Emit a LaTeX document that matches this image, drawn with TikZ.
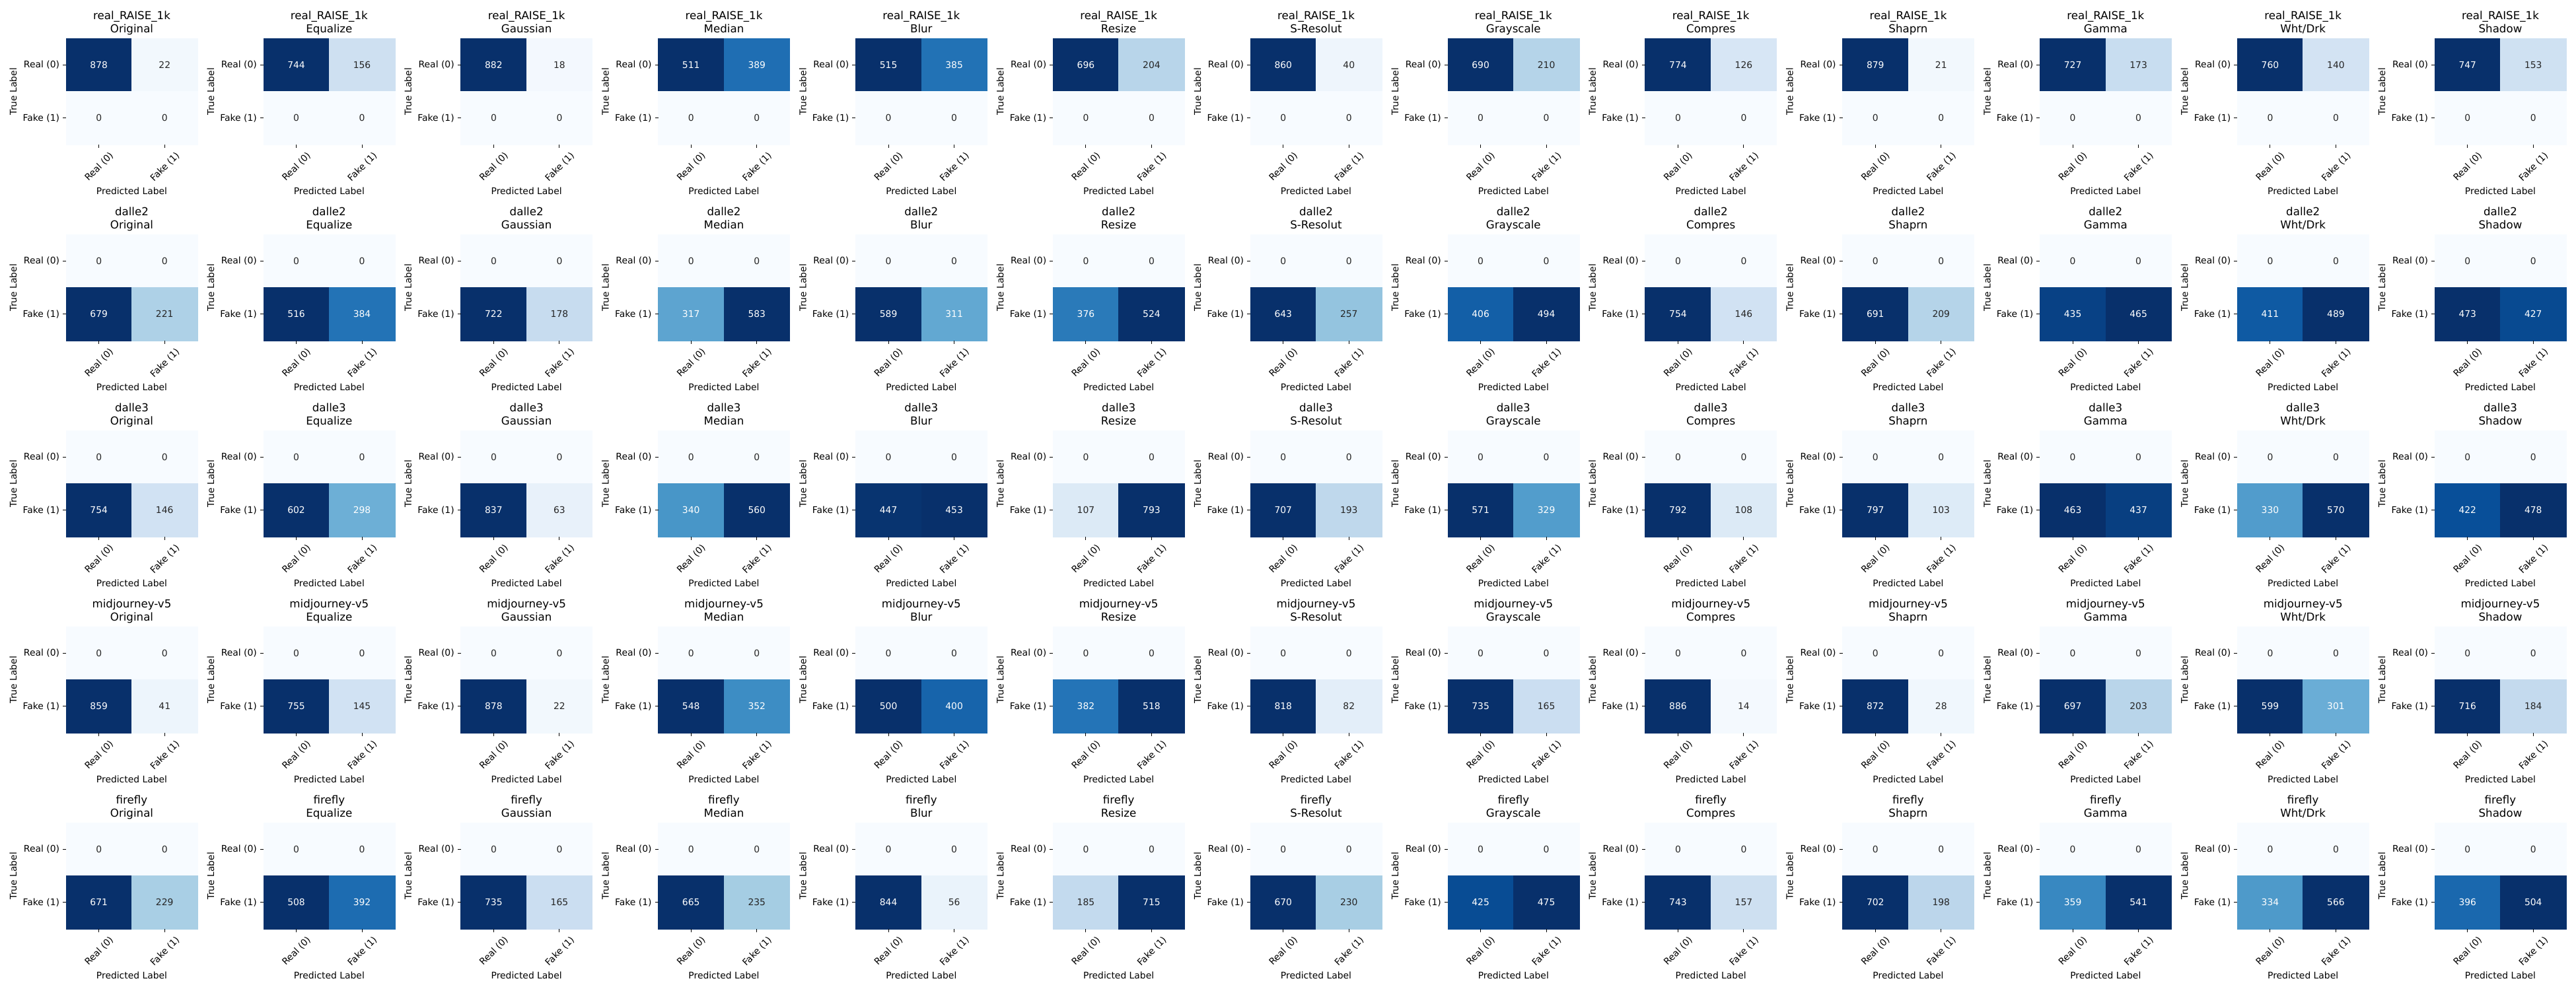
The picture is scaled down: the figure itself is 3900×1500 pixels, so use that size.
\documentclass[tikz,border=0pt]{standalone}
\usepackage{fontspec}
\setmainfont{DejaVu Sans}
\definecolor{bl0}{RGB}{247,251,255}
\definecolor{bl1}{RGB}{222,235,247}
\definecolor{bl2}{RGB}{198,219,239}
\definecolor{bl3}{RGB}{158,202,225}
\definecolor{bl4}{RGB}{107,174,214}
\definecolor{bl5}{RGB}{66,146,198}
\definecolor{bl6}{RGB}{33,113,181}
\definecolor{bl7}{RGB}{8,81,156}
\definecolor{bl8}{RGB}{8,48,107}
\definecolor{anndark}{gray}{0.15}
\tikzset{
  annot/.style={inner sep=0pt, font=\fontsize{10}{12}\selectfont},
  ticklab/.style={inner sep=0pt, text=black, font=\fontsize{10}{12}\selectfont},
  axlab/.style={inner sep=0pt, text=black, font=\fontsize{10}{12}\selectfont},
  ttl/.style={inner sep=0pt, text=black, font=\fontsize{12}{14}\selectfont},
  tickmark/.style={draw=black, line width=0.8pt}
}
\newcommand\dsname[1]{\ifcase#1 real\_RAISE\_1k\or dalle2\or dalle3\or midjourney-v5\or firefly\fi}
\newcommand\trname[1]{\ifcase#1 Original\or Equalize\or Gaussian\or Median\or Blur\or Resize\or S-Resolut\or Grayscale\or Compres\or Shaprn\or Gamma\or Wht/Drk\or Shadow\fi}
\newcommand\cmcell[5]{%
  \pgfmathsetmacro\cmt{#3/#4}%
  \pgfmathtruncatemacro\cmk{min(7,floor(8*\cmt))}%
  \pgfmathtruncatemacro\cmkk{\cmk+1}%
  \pgfmathtruncatemacro\cmp{round(100*(1-(8*\cmt-\cmk)))}%
  \colorlet{cellc}{bl\cmk!\cmp!bl\cmkk}%
  \pgfmathtruncatemacro\cmw{\cmt>0.48}%
  \ifnum\cmw=1 \colorlet{anc}{white}\else\colorlet{anc}{anndark}\fi
  \fill[cellc, draw=cellc, line width=0.3pt] (#1,#2) rectangle ++(99.5,80.5);
  \pgfmathsetmacro\cmx{#1+49.75}%
  \pgfmathsetmacro\cmy{#2+40.25}%
  \node[annot, text=anc] (#5) at (\cmx,\cmy) {#3};
}
\newcommand\cmpanel[4]{%
  \pgfmathsetmacro\XO{100+298.83*#2}%
  \pgfmathsetmacro\YO{58+297*#1}%
  \pgfmathsetmacro\XM{\XO+99.5}%
  \pgfmathsetmacro\YM{\YO+80.5}%
  \pgfmathsetmacro\YB{\YO+161}%
  \pgfmathsetmacro\mx{max(#3,#4)}%
  \ifnum#1=0
    \cmcell{\XO}{\YO}{#3}{\mx}{c#1-#2-a}
    \cmcell{\XM}{\YO}{#4}{\mx}{c#1-#2-b}
    \cmcell{\XO}{\YM}{0}{\mx}{c#1-#2-c}
    \cmcell{\XM}{\YM}{0}{\mx}{c#1-#2-d}
  \else
    \cmcell{\XO}{\YO}{0}{\mx}{c#1-#2-a}
    \cmcell{\XM}{\YO}{0}{\mx}{c#1-#2-b}
    \cmcell{\XO}{\YM}{#3}{\mx}{c#1-#2-c}
    \cmcell{\XM}{\YM}{#4}{\mx}{c#1-#2-d}
  \fi
  % titles
  \node[ttl, anchor=base] (ta#1-#2) at (\XM,\YO-28.5) {\dsname{#1}};
  \node[ttl, anchor=base] (tb#1-#2) at (\XM,\YO-8.3) {\trname{#2}};
  % y ticks
  \draw[tickmark] (\XO-4.86,\YO+40.25) -- (\XO,\YO+40.25);
  \draw[tickmark] (\XO-4.86,\YO+120.75) -- (\XO,\YO+120.75);
  \node[ticklab, anchor=east] (yr#1-#2) at (\XO-9.7,\YO+40.25) {Real (0)};
  \node[ticklab, anchor=east] (yf#1-#2) at (\XO-9.7,\YO+120.75) {Fake (1)};
  % x ticks
  \draw[tickmark] (\XO+49.75,\YB) -- (\XO+49.75,\YB+4.86);
  \draw[tickmark] (\XO+149.25,\YB) -- (\XO+149.25,\YB+4.86);
  \node[ticklab, rotate=45, anchor=north east] (xr#1-#2) at (\XO+49.75+15,\YB+9.7) {Real (0)};
  \node[ticklab, rotate=45, anchor=north east] (xf#1-#2) at (\XO+149.25+15.8,\YB+9.7) {Fake (1)};
  % axis labels
  \node[axlab, rotate=90] (yl#1-#2) at (\XO-80,\YM) {True Label};
  \node[axlab, anchor=base] (xl#1-#2) at (\XM,\YB+75) {Predicted Label};
}
\begin{document}
\begin{tikzpicture}[x=0.72pt, y=-0.72pt]
\fill[white] (0,0) rectangle (3900,1500);
\useasboundingbox (0,0) rectangle (3900,1500);
\foreach \c/\a/\b in {0/878/22,1/744/156,2/882/18,3/511/389,4/515/385,5/696/204,6/860/40,7/690/210,8/774/126,9/879/21,10/727/173,11/760/140,12/747/153}{\cmpanel{0}{\c}{\a}{\b}}
\foreach \c/\a/\b in {0/679/221,1/516/384,2/722/178,3/317/583,4/589/311,5/376/524,6/643/257,7/406/494,8/754/146,9/691/209,10/435/465,11/411/489,12/473/427}{\cmpanel{1}{\c}{\a}{\b}}
\foreach \c/\a/\b in {0/754/146,1/602/298,2/837/63,3/340/560,4/447/453,5/107/793,6/707/193,7/571/329,8/792/108,9/797/103,10/463/437,11/330/570,12/422/478}{\cmpanel{2}{\c}{\a}{\b}}
\foreach \c/\a/\b in {0/859/41,1/755/145,2/878/22,3/548/352,4/500/400,5/382/518,6/818/82,7/735/165,8/886/14,9/872/28,10/697/203,11/599/301,12/716/184}{\cmpanel{3}{\c}{\a}{\b}}
\foreach \c/\a/\b in {0/671/229,1/508/392,2/735/165,3/665/235,4/844/56,5/185/715,6/670/230,7/425/475,8/743/157,9/702/198,10/359/541,11/334/566,12/396/504}{\cmpanel{4}{\c}{\a}{\b}}
\end{tikzpicture}
\end{document}
